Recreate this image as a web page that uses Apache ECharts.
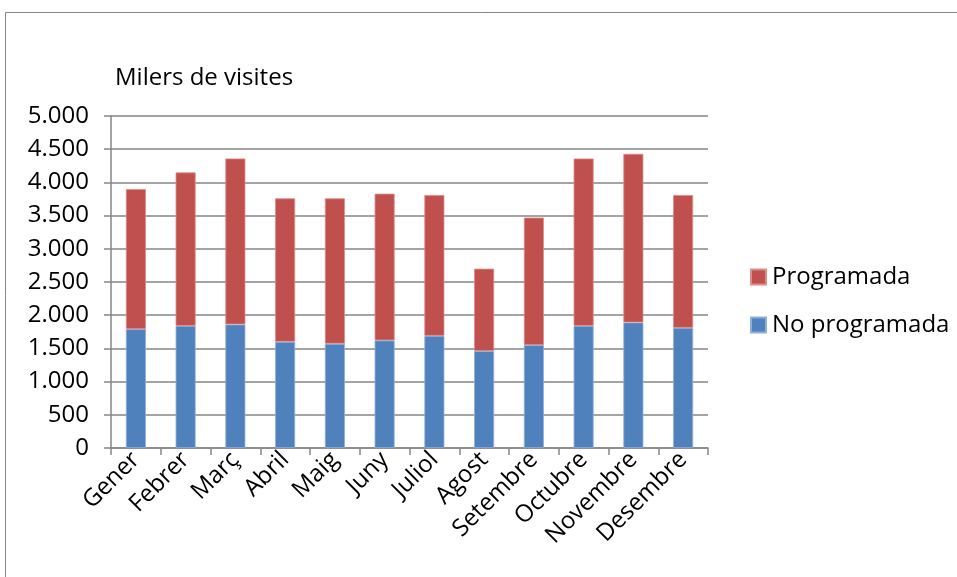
<!DOCTYPE html>
<html>
<head>
<meta charset="utf-8">
<script src="https://cdn.jsdelivr.net/npm/echarts@6/dist/echarts.min.js"></script>
<style>
html,body{margin:0;padding:0;background:#fff;}
#c{width:957px;height:577px;}
</style>
</head>
<body>
<div id="c"></div>
<script>
var categories = ['Gener','Febrer','Març','Abril','Maig','Juny','Juliol','Agost','Setembre','Octubre','Novembre','Desembre'];
var noProgramada = [1790, 1840, 1860, 1600, 1570, 1620, 1690, 1460, 1550, 1840, 1890, 1810];
var programada = [2110, 2310, 2500, 2160, 2190, 2210, 2120, 1240, 1920, 2520, 2540, 2000];
var titleText = 'Milers de visites';

var FONT = '"Open Sans", sans-serif';
function fmt(v){
  var s = String(Math.round(v));
  return s.replace(/\B(?=(\d{3})+(?!\d))/g, '.');
}
var chart = echarts.init(document.getElementById('c'), null, {renderer:'canvas'});
chart.setOption({
  animation:false,
  backgroundColor:'#fff',
  textStyle:{fontFamily:FONT},
  graphic:[{
    type:'rect', shape:{x:5.5, y:12.5, width:1000, height:1000},
    style:{fill:'none', stroke:'#868686', lineWidth:1}, silent:true
  }],
  title:{
    text:titleText, left:110, top:61,
    textStyle:{fontFamily:FONT, fontSize:24, fontWeight:'normal', color:'#000'}
  },
  legend:{
    orient:'vertical', left:745, top:260,
    itemWidth:15, itemHeight:15, itemGap:24,
    icon:'rect',
    data:['Programada','No programada'],
    textStyle:{fontFamily:FONT, fontSize:24, color:'#000', padding:[0,0,0,1]}
  },
  grid:{left:111, right:249, top:116, bottom:129, containLabel:false},
  xAxis:{
    type:'category', data:categories,
    axisLine:{show:true, lineStyle:{color:'#868686', width:1.5}},
    axisTick:{show:true, alignWithLabel:false, length:7, lineStyle:{color:'#868686', width:1.5}},
    axisLabel:{rotate:45, fontFamily:FONT, fontSize:24, color:'#000', margin:8, interval:0},
    splitLine:{show:false}
  },
  yAxis:{
    type:'value', min:0, max:5000, interval:500,
    axisLine:{show:true, lineStyle:{color:'#868686', width:1.5}},
    axisTick:{show:true, inside:false, length:7, lineStyle:{color:'#868686', width:1.5}},
    axisLabel:{fontFamily:FONT, fontSize:24, color:'#000', margin:22, formatter:fmt},
    splitLine:{show:true, lineStyle:{color:'#868686', width:1.5}}
  },
  series:[
    {name:'No programada', type:'bar', stack:'t', data:noProgramada, barWidth:20,
     itemStyle:{color:'#4F81BD', borderColor:'#8FAFD8', borderWidth:0.8}},
    {name:'Programada', type:'bar', stack:'t', data:programada, barWidth:20,
     itemStyle:{color:'#C0504D', borderColor:'#DC8C8A', borderWidth:0.8}}
  ]
});
</script>
</body>
</html>
